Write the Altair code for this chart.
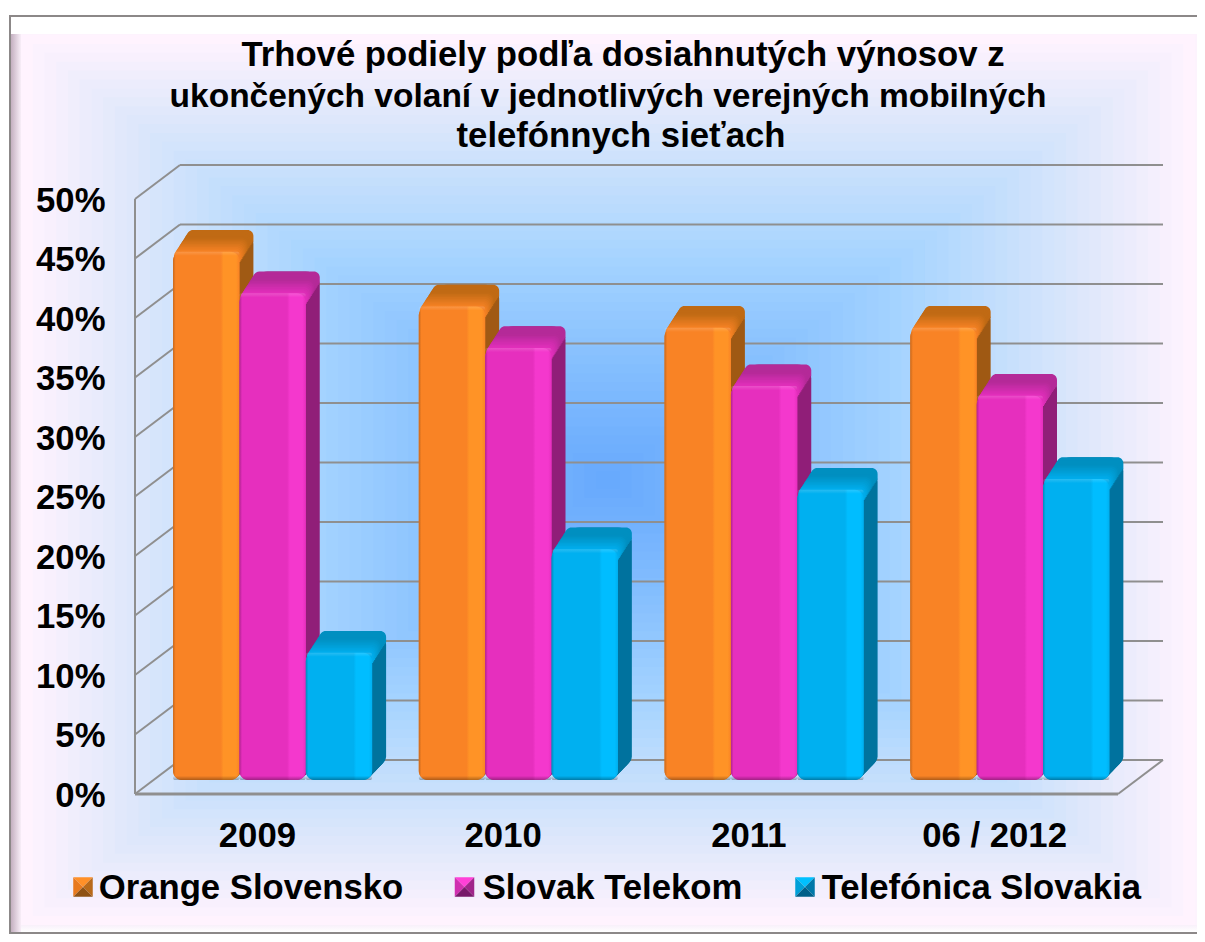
import json
import altair as alt
import pandas as pd

periods = ["2009", "2010", "2011", "06 / 2012"]
series = ["Orange Slovensko", "Slovak Telekom", "Telefónica Slovakia"]
orange = [44.4, 39.8, 38.0, 38.0]
magenta = [40.9, 36.3, 33.1, 32.3]
blue = [10.7, 19.4, 24.4, 25.3]
front_colors = ["#f98325", "#e62fbe", "#00b0f0"]
bright_colors = ["#ff9326", "#f438cd", "#00bdff"]
edge_colors = ["#c8681c", "#b0248f", "#0088bc"]
side_colors = ["#a05a14", "#901f78", "#00739e"]
top_colors = ["#c06a14", "#b42a98", "#008fc0"]
key_colors = [["#ff9028", "#e87a1e", "#b86a1a", "#8f5214"],
              ["#ff40d8", "#d030b0", "#a0268a", "#78196a"],
              ["#00c0ff", "#00a0d8", "#0078a8", "#005f88"]]
key_centres = [83, 464.5, 805]
ticks = list(range(0, 55, 5))
title_lines = ["Trhové podiely podľa dosiahnutých výnosov z",
               "ukončených volaní v jednotlivých verejných mobilných",
               "telefónnych sieťach"]
title_centres = [(623, 56, 34.7), (608, 97, 33.5), (621, 137, 34.7)]

FONT = "Liberation Sans"
LEFT, TOP = 127, 157            # plot origin inside the canvas
W, H = 1028, 629
PX = 11.9                       # pixels per percent
UNIT = 245.75                   # pixels per category
DOMAIN_TOP = H / PX
DX, DY = 45, 34                 # depth of the chart box
GROUP, MARGIN = 0.81, 0.095


def lerp(stops, t):
    for (a, ca), (b, cb) in zip(stops, stops[1:]):
        if a <= t <= b:
            f = (t - a) / (b - a)
            pa = [int(ca[i:i + 2], 16) for i in (1, 3, 5)]
            pb = [int(cb[i:i + 2], 16) for i in (1, 3, 5)]
            return "#" + "".join(f"{round(u + (v - u) * f):02x}" for u, v in zip(pa, pb))
    return stops[-1][1]


rows = []
for j, vals in enumerate([orange, magenta, blue]):
    for i, v in enumerate(vals):
        x0 = i + MARGIN + j * GROUP / 3
        rows.append({"x0": x0, "x1": x0 + GROUP / 3, "series": series[j], "value": v,
                     "cap": v - 1.0, "hl": v - 0.35, "zero": 0, "rim": 0.35, "j": j})
df = pd.DataFrame(rows)
df["side"] = [side_colors[j] for j in df.j]
tick_df = pd.DataFrame({"tick": ticks, "back": [t + DY / PX for t in ticks]})
one = pd.DataFrame({"a": [0]})

yscale = alt.Scale(domain=[0, DOMAIN_TOP], range=[H, 0], nice=False, zero=False, padding=0)
xscale = alt.Scale(domain=[0, W / UNIT], range=[0, W], nice=False, zero=False, padding=0)
x_enc = alt.X("x0:Q", scale=xscale, title=None,
              axis=alt.Axis(values=[i + 0.5 for i in range(len(periods))],
                            labelExpr=json.dumps(periods) + "[datum.value - 0.5]",
                            labelAngle=0, labelFontSize=34.7, labelFont=FONT, labelFontWeight="bold",
                            labelColor="#000", ticks=False, domain=False, grid=False, labelPadding=25,
                            labelBaseline="top", zindex=1, labelOverlap=False, labelFlush=False,
                            labelOffset=-1))
x2_enc = alt.X2("x1:Q")
y_enc = alt.Y("value:Q", scale=yscale, title=None,
              axis=alt.Axis(values=ticks, labelExpr="datum.value + '%'", labelFontSize=34.7,
                            labelFont=FONT, labelFontWeight="bold", labelColor="#000", ticks=False,
                            domain=False, grid=False, labelPadding=30, zindex=1, labelOverlap=False,
                            labelFlush=False, labelOffset=2))


def rect(x0, x1, y0, y1, fill):
    return alt.Chart(one).mark_rect(fill=fill, stroke=None).encode(
        x=alt.value(x0 - 8 - LEFT), x2=alt.value(x1 - 8 - LEFT),
        y=alt.value(y0 - 8 - TOP), y2=alt.value(y1 - 8 - TOP))


def grad(stops, horizontal=True):
    return alt.Gradient(gradient="linear",
                        stops=[alt.GradientStop(offset=o, color=c) for o, c in stops],
                        x1=0, y1=0, x2=1 if horizontal else 0, y2=0 if horizontal else 1)


layers = []
# picture frame
layers.append(rect(9, 1197, 15, 934, "#8c8888"))
layers.append(rect(11, 1197, 17, 932, "#fdf3fd"))
layers.append(rect(11, 21, 17, 932, grad([(0, "#c4b0c0"), (1, "#f8eef8")])))
layers.append(rect(11, 1197, 17, 34, "#ffffff"))
layers.append(rect(21, 1197, 925, 932, grad([(0, "#f8f0fa"), (1, "#ffffff")], False)))

# background: rectangular path gradient, drawn as nested rectangles
bg_stops = [(0, "#66a8fd"), (0.25, "#82bdfe"), (0.5, "#a4d3ff"), (0.7, "#c8e0fc"),
            (0.85, "#e3e9fb"), (1, "#fff3fe")]
cx, cy, rx, ry = 608, 480, 587, 445
N = 50
for k in range(N, 0, -1):
    t = k / N
    layers.append(rect(cx - rx * t, cx + rx * t, cy - ry * t, cy + ry * t, lerp(bg_stops, t)))

GRID = "#8f8f8f"
base = alt.Chart(tick_df)
y_tick = alt.Y("tick:Q", scale=yscale, title=None)
y_back = alt.Y("back:Q", scale=yscale, title=None)
# back wall lines
layers.append(base.mark_rule(color=GRID, strokeWidth=2).encode(
    x=alt.value(DX), x2=alt.value(W), y=y_back))
# diagonals on the left wall
layers.append(base.mark_rule(color=GRID, strokeWidth=2).encode(
    x=alt.value(0), x2=alt.value(DX), y=y_tick, y2="back:Q"))
# left front edge, floor front edge and floor right diagonal
zero = tick_df[tick_df.tick == 0]
layers.append(alt.Chart(pd.DataFrame({"a": [0], "b": [50]})).mark_rule(color=GRID, strokeWidth=2).encode(
    x=alt.value(0), y=alt.Y("a:Q", scale=yscale, title=None), y2="b:Q"))
layers.append(alt.Chart(zero).mark_rule(color=GRID, strokeWidth=3).encode(
    x=alt.value(0), x2=alt.value(983), y=y_tick))
layers.append(alt.Chart(zero).mark_rule(color=GRID, strokeWidth=2).encode(
    x=alt.value(983), x2=alt.value(W), y=y_tick, y2="back:Q"))

XOFF, BASE = 14.7, -14
RADIUS = 9
TOP_RADIUS = 14
DEPTH = 14
bars = alt.Chart(df)


def offs(d):
    return dict(xOffset=XOFF + d, x2Offset=XOFF + d, yOffset=BASE - d * 1.55,
                y2Offset=BASE - d * 1.05, stroke=None)


def capoffs(d):
    return dict(xOffset=XOFF + d, x2Offset=XOFF + d, yOffset=BASE - d * 1.55,
                y2Offset=BASE - d * 1.55, stroke=None)


# extruded side faces
for d in range(DEPTH, 0, -1):
    layers.append(bars.mark_bar(cornerRadiusTopLeft=TOP_RADIUS, cornerRadiusTopRight=TOP_RADIUS,
                                cornerRadiusBottomLeft=RADIUS, cornerRadiusBottomRight=RADIUS,
                                **offs(d)).encode(
        x=x_enc, x2=x2_enc, y=y_enc, y2="zero:Q", color=alt.Color("side:N", scale=None)))
# extruded top faces: dark at the back, brightening towards the front
for d in range(DEPTH, 0, -1):
    f = min(1, d / DEPTH * 1.5)
    capped = df.assign(capc=[lerp([(0, front_colors[j]), (1, top_colors[j])], f) for j in df.j])
    layers.append(alt.Chart(capped).mark_bar(cornerRadiusTopLeft=TOP_RADIUS, cornerRadiusTopRight=TOP_RADIUS,
                                             **capoffs(d)).encode(
        x=x_enc, x2=x2_enc, y=y_enc, y2="cap:Q", color=alt.Color("capc:N", scale=None)))
# front faces
layers.append(bars.mark_bar(cornerRadius=RADIUS, **offs(0)).encode(
    x=x_enc, x2=x2_enc, y=y_enc, y2="zero:Q",
    color=alt.Color("series:N", sort=series,
                    scale=alt.Scale(domain=series, range=front_colors),
                    legend=alt.Legend(orient="none", legendX=-71, legendY=707, direction="horizontal",
                                      columns=3, title=None, symbolType="square", symbolSize=360,
                                      symbolStrokeWidth=0, symbolOpacity=0,
                                      labelFont=FONT, labelFontSize=34.7, labelFontWeight="bold",
                                      labelColor="#000", labelOffset=0, columnPadding=44,
                                      gridAlign="none", labelLimit=400,
                                      padding=0))))
# front shading, per series
for j, name in enumerate(series):
    sub = df[df.j == j]
    c = alt.Chart(sub)
    layers.append(c.mark_bar(cornerRadius=RADIUS, **offs(0),
                             fill=grad([(0, edge_colors[j]), (0.04, front_colors[j]),
                                        (0.72, front_colors[j]), (0.76, bright_colors[j]),
                                        (0.95, bright_colors[j]), (1, front_colors[j])])).encode(
        x=x_enc, x2=x2_enc, y=y_enc, y2="zero:Q"))
    # rim at the foot of the bar
    layers.append(c.mark_bar(cornerRadius=RADIUS - 3, **offs(0),
                             fill=grad([(0, "rgba(0,0,0,0)"), (1, "rgba(0,0,0,0.3)")], False)).encode(
        x=x_enc, x2=x2_enc, y=alt.Y("rim:Q", scale=yscale, title=None), y2="zero:Q"))
    # highlight at the head of the bar
    layers.append(c.mark_bar(cornerRadius=RADIUS - 3, **offs(0),
                             fill=grad([(0, "rgba(255,255,255,0.16)"), (1, "rgba(255,255,255,0)")], False)).encode(
        x=x_enc, x2=x2_enc, y=y_enc, y2="hl:Q"))

# legend keys: small bevelled pyramids
KEY = 380
tris = ["M-1,-1L1,-1L0,0Z", "M-1,-1L-1,1L0,0Z", "M1,-1L1,1L0,0Z", "M-1,1L1,1L0,0Z"]
for k, xc in enumerate(key_centres):
    for shape, col in zip(tris, key_colors[k]):
        layers.append(alt.Chart(one).mark_point(shape=shape, filled=True, size=KEY, fill=col,
                                                opacity=1, stroke=None).encode(
            x=alt.value(xc - 8 - LEFT), y=alt.value(887 - 8 - TOP)))

# title as real text
for line, (xc, yc, fs) in zip(title_lines, title_centres):
    layers.append(alt.Chart(one).mark_text(
        text=line, font=FONT, fontSize=fs, fontWeight="bold", color="#000",
        align="center", baseline="middle").encode(
        x=alt.value(xc - 8 - LEFT), y=alt.value(yc - 8 - TOP)))

chart = alt.layer(*layers).properties(
    width=W, height=H,
    padding={"left": LEFT, "top": TOP, "right": 1189 - LEFT - W, "bottom": 926 - TOP - H},
    autosize=alt.AutoSizeParams(type="none"),
).configure_view(stroke=None)

chart.save("out.html", embed_options={"renderer": "svg", "actions": False})
